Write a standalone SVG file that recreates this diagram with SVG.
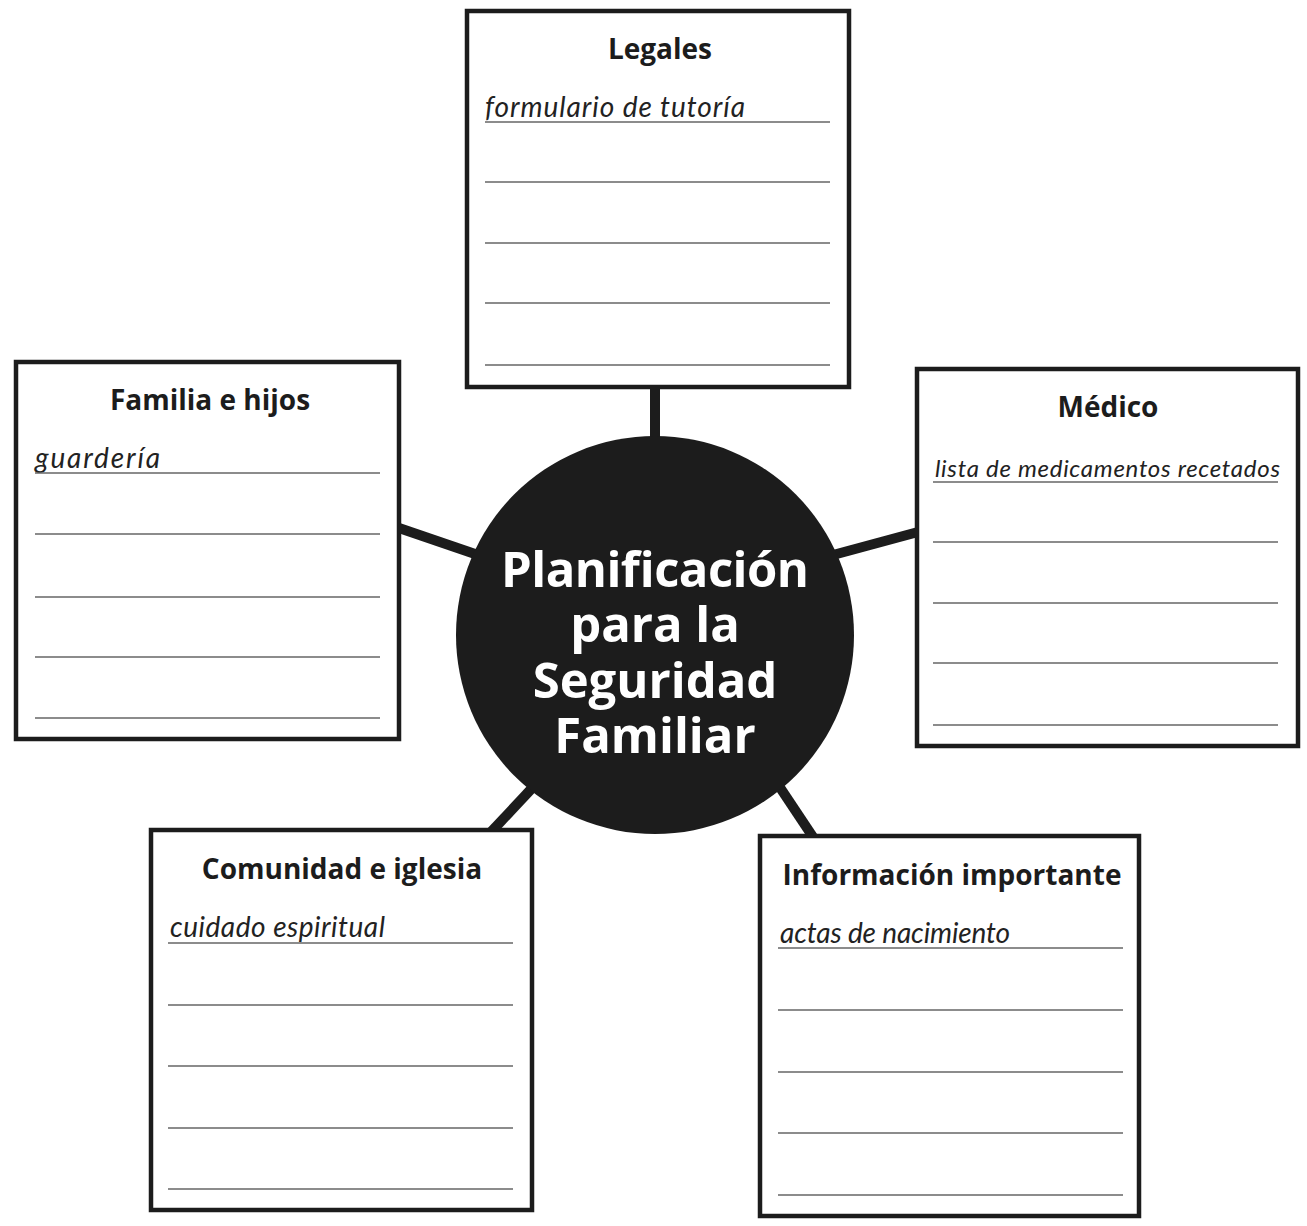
<svg xmlns="http://www.w3.org/2000/svg" width="1307" height="1226" viewBox="0 0 1307 1226">
<style>
.box{fill:#fff;stroke:#1c1c1c;stroke-width:4.5}
.rule{stroke:#666;stroke-width:1.6}
.title{font-family:"Open Sans","Liberation Sans",sans-serif;font-weight:700;font-size:28px;fill:#1c1c1c;text-anchor:middle}
.hand{font-family:Lato,"Liberation Sans",sans-serif;font-style:italic;font-weight:400;font-size:28px;fill:#222}
.hand.small{font-size:24px}
.conn{stroke:#1c1c1c;stroke-width:10;stroke-linecap:butt}
.center{font-family:"Open Sans","Liberation Sans",sans-serif;font-weight:700;font-size:49px;fill:#fff;text-anchor:middle}
</style>
<rect width="1307" height="1226" fill="#fff"/>
<g id="connectors">
<line class="conn" x1="655" y1="386" x2="655" y2="445"/>
<line class="conn" x1="399" y1="528" x2="478" y2="555"/>
<line class="conn" x1="833" y1="555" x2="918" y2="532"/>
<line class="conn" x1="535" y1="785" x2="491" y2="832"/>
<line class="conn" x1="777" y1="783" x2="813" y2="837"/>
</g>
<g id="center">
<circle cx="655" cy="635" r="199" fill="#1c1c1c"/>
<text class="center" x="655" y="587" textLength="308">Planificación</text>
<text class="center" x="655" y="642">para la</text>
<text class="center" x="655" y="698">Seguridad</text>
<text class="center" x="655" y="753">Familiar</text>
</g>
<g id="legales">
<rect class="box" x="467" y="11" width="382" height="376"/>
<text class="title" x="660" y="59">Legales</text>
<text class="hand" x="485" y="117" textLength="260">formulario de tutoría</text>
<line class="rule" x1="485" y1="122" x2="830" y2="122"/>
<line class="rule" x1="485" y1="182" x2="830" y2="182"/>
<line class="rule" x1="485" y1="243" x2="830" y2="243"/>
<line class="rule" x1="485" y1="303" x2="830" y2="303"/>
<line class="rule" x1="485" y1="365" x2="830" y2="365"/>
</g>
<g id="familia">
<rect class="box" x="16" y="362" width="383" height="377"/>
<text class="title" x="210" y="410">Familia e hijos</text>
<text class="hand" x="35" y="468" textLength="125">guardería</text>
<line class="rule" x1="35" y1="473" x2="380" y2="473"/>
<line class="rule" x1="35" y1="534" x2="380" y2="534"/>
<line class="rule" x1="35" y1="597" x2="380" y2="597"/>
<line class="rule" x1="35" y1="657" x2="380" y2="657"/>
<line class="rule" x1="35" y1="718" x2="380" y2="718"/>
</g>
<g id="medico">
<rect class="box" x="917" y="369" width="381" height="377"/>
<text class="title" x="1108" y="417">Médico</text>
<text class="hand small" x="935" y="477" textLength="345">lista de medicamentos recetados</text>
<line class="rule" x1="933" y1="482" x2="1278" y2="482"/>
<line class="rule" x1="933" y1="542" x2="1278" y2="542"/>
<line class="rule" x1="933" y1="603" x2="1278" y2="603"/>
<line class="rule" x1="933" y1="663" x2="1278" y2="663"/>
<line class="rule" x1="933" y1="725" x2="1278" y2="725"/>
</g>
<g id="comunidad">
<rect class="box" x="151" y="830" width="381" height="380"/>
<text class="title" x="342" y="879">Comunidad e iglesia</text>
<text class="hand" x="170" y="937" textLength="215">cuidado espiritual</text>
<line class="rule" x1="168" y1="943" x2="513" y2="943"/>
<line class="rule" x1="168" y1="1005" x2="513" y2="1005"/>
<line class="rule" x1="168" y1="1066" x2="513" y2="1066"/>
<line class="rule" x1="168" y1="1128" x2="513" y2="1128"/>
<line class="rule" x1="168" y1="1189" x2="513" y2="1189"/>
</g>
<g id="informacion">
<rect class="box" x="760" y="836" width="379" height="380"/>
<text class="title" x="952" y="885">Información importante</text>
<text class="hand" x="780" y="943" textLength="230">actas de nacimiento</text>
<line class="rule" x1="778" y1="948" x2="1123" y2="948"/>
<line class="rule" x1="778" y1="1010" x2="1123" y2="1010"/>
<line class="rule" x1="778" y1="1072" x2="1123" y2="1072"/>
<line class="rule" x1="778" y1="1133" x2="1123" y2="1133"/>
<line class="rule" x1="778" y1="1195" x2="1123" y2="1195"/>
</g>
</svg>
